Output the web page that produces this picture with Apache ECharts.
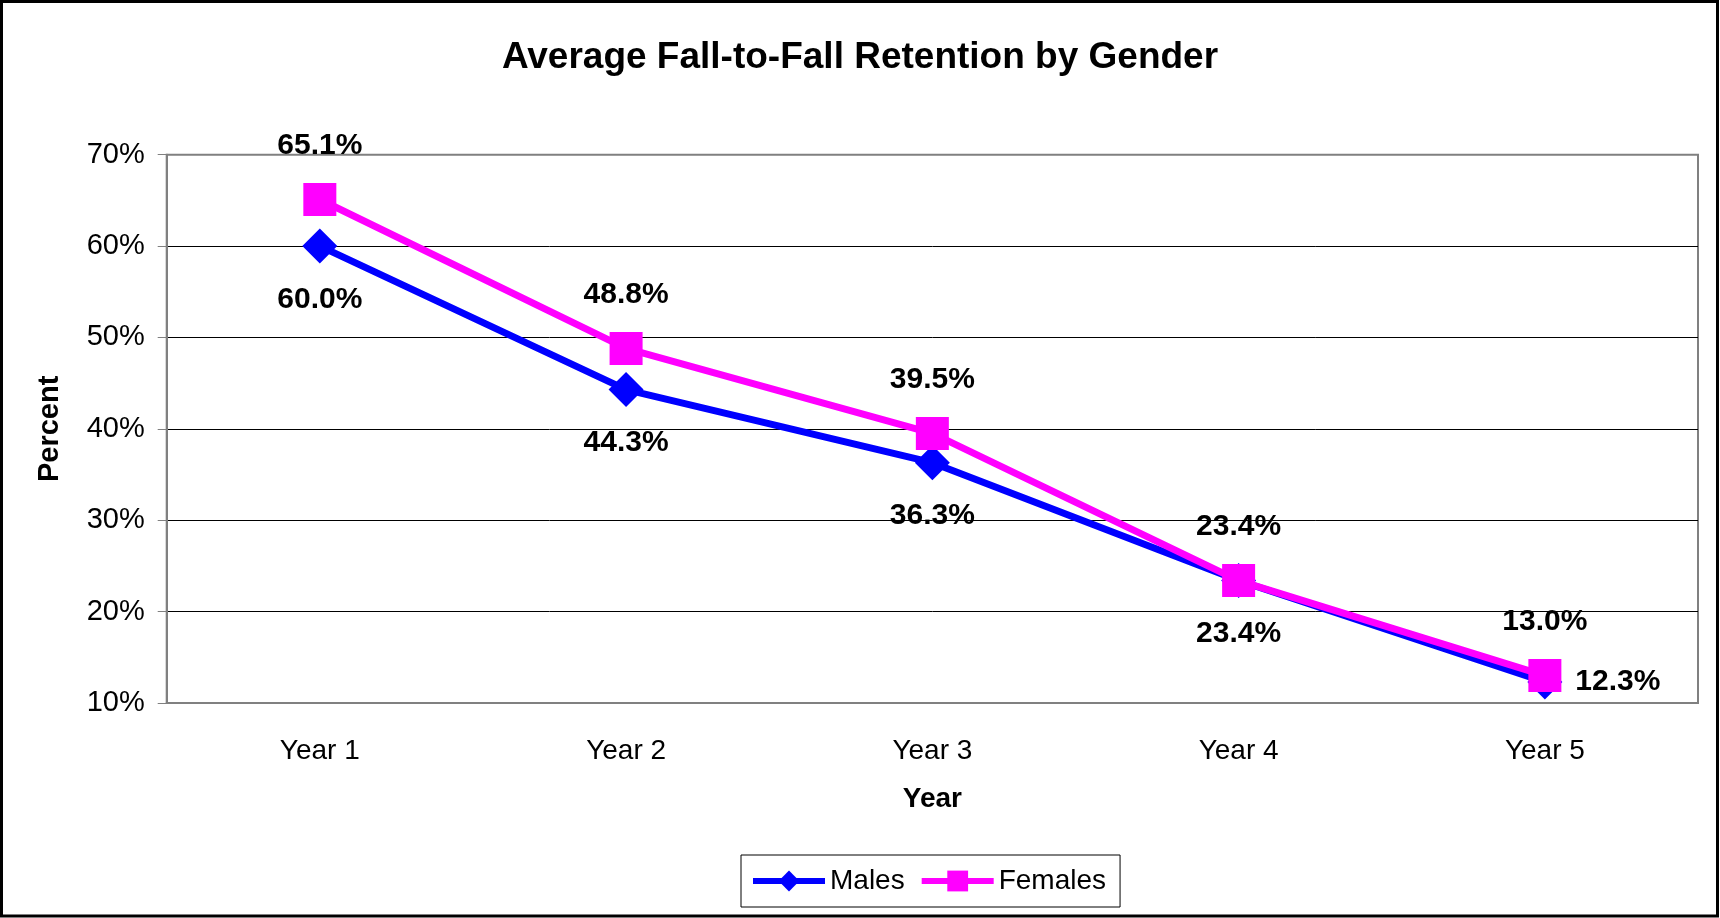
<!DOCTYPE html>
<html>
<head>
<meta charset="utf-8">
<script src="https://cdn.jsdelivr.net/npm/echarts@6/dist/echarts.min.js"></script>
<style>
  html, body { margin: 0; padding: 0; background: #fff; }
  #RetentionChart { width: 1720px; height: 918px; }
</style>
</head>
<body>
<div id="RetentionChart"></div>
<script>
// 数据
const years = ['Year 1', 'Year 2', 'Year 3', 'Year 4', 'Year 5'];
const males = [60.0, 44.3, 36.3, 23.4, 12.3];
const females = [65.1, 48.8, 39.5, 23.4, 13.0];
const yTicks = [10, 20, 30, 40, 50, 60, 70];

const font = '"Liberation Sans", Arial, sans-serif';

let chart = echarts.init(document.getElementById('RetentionChart'));

// last male label sits to the right of the point
const maleData = males.map((v, i) => i === males.length - 1
  ? { value: v, label: { position: 'right', distance: 13 } }
  : v);

chart.setOption({
  animation: false,
  textStyle: { fontFamily: font },
  title: {
    text: 'Average Fall-to-Fall Retention by Gender',
    left: 'center',
    top: 34,
    textStyle: { fontFamily: font, fontSize: 37, fontWeight: 'bold', color: '#000' }
  },
  graphic: [{
    type: 'rect',
    shape: { x: 1.5, y: 1.5, width: 1716, height: 914.5 },
    style: { fill: 'none', stroke: '#000', lineWidth: 3 },
    silent: true
  }],
  legend: {
    left: 741,
    top: 855,
    padding: [12, 14, 12, 9],
    itemGap: 14,
    itemWidth: 72,
    itemHeight: 26,
    borderColor: '#000',
    borderWidth: 1,
    lineStyle: { width: 6 },
    textStyle: { fontFamily: font, fontSize: 28, color: '#000' },
    data: ['Males', 'Females']
  },
  grid: {
    left: 166.7,
    right: 22,
    top: 154.7,
    bottom: 215,
    show: true,
    borderColor: '#808080',
    borderWidth: 2
  },
  xAxis: {
    type: 'category',
    data: years,
    name: 'Year',
    nameLocation: 'middle',
    nameGap: 82,
    nameTextStyle: { fontFamily: font, fontSize: 28, fontWeight: 'bold', color: '#000' },
    axisLine: { lineStyle: { color: '#808080', width: 2 } },
    axisTick: { length: 10, lineStyle: { color: '#808080', width: 1 } },
    axisLabel: { margin: 34, fontFamily: font, fontSize: 28, color: '#000' },
    splitLine: { show: false }
  },
  yAxis: {
    type: 'value',
    min: yTicks[0],
    max: yTicks[yTicks.length - 1],
    interval: 10,
    name: 'Percent',
    nameLocation: 'middle',
    nameGap: 102,
    nameRotate: 90,
    nameTextStyle: { fontFamily: font, fontSize: 29, fontWeight: 'bold', color: '#000' },
    axisLine: { show: true, lineStyle: { color: '#808080', width: 2 } },
    axisTick: { show: true, length: 9, lineStyle: { color: '#808080', width: 1 } },
    axisLabel: { margin: 22, fontFamily: font, fontSize: 29, color: '#000', formatter: '{value}%' },
    splitLine: {
      show: true,
      showMinLine: false,
      showMaxLine: false,
      lineStyle: { color: '#000', width: 1 }
    }
  },
  series: [
    {
      name: 'Males',
      type: 'line',
      data: maleData,
      symbol: 'diamond',
      symbolSize: 35,
      itemStyle: { color: '#0000ff' },
      lineStyle: { color: '#0000ff', width: 7 },
      label: {
        show: true,
        position: 'bottom',
        distance: 21,
        fontFamily: font,
        fontSize: 30,
        fontWeight: 'bold',
        color: '#000',
        formatter: p => p.value.toFixed(1) + '%'
      }
    },
    {
      name: 'Females',
      type: 'line',
      data: females,
      symbol: 'rect',
      symbolSize: 33,
      itemStyle: { color: '#ff00ff' },
      lineStyle: { color: '#ff00ff', width: 7 },
      label: {
        show: true,
        position: 'top',
        distance: 22,
        fontFamily: font,
        fontSize: 30,
        fontWeight: 'bold',
        color: '#000',
        formatter: p => p.value.toFixed(1) + '%'
      }
    }
  ]
});
</script>
</body>
</html>
